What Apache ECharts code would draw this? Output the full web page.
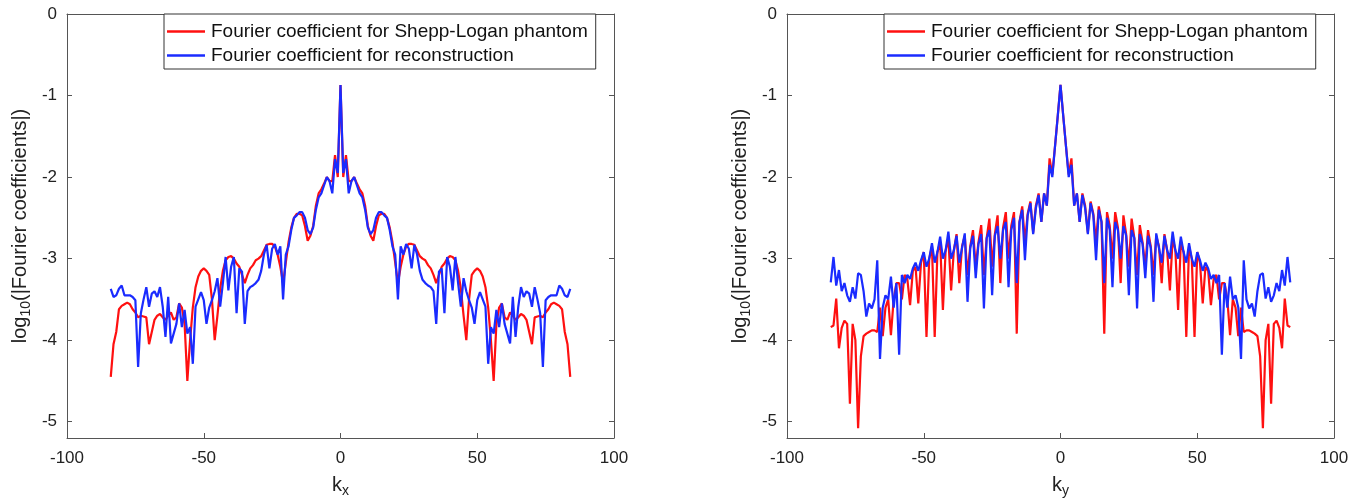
<!DOCTYPE html>
<html>
<head>
<meta charset="utf-8">
<script src="https://cdn.jsdelivr.net/npm/echarts@6/dist/echarts.min.js"></script>
<style>
  html, body { margin: 0; padding: 0; background: #fff; }
  #chart { width: 1364px; height: 504px; }
</style>
</head>
<body>
<div id="chart"></div>
<script>
// sample positions k = -84 .. 84
var kIndex = [];
for (var k = -84; k <= 84; k++) kIndex.push(k);

// left panel (k_x)
var kxPhantom = [
  -4.45,-4.05,-3.9,-3.62,-3.58,-3.56,-3.54,-3.56,-3.62,-3.66,
  -3.72,-3.7,-3.71,-3.72,-4.05,-3.9,-3.75,-3.7,-3.68,-3.72,
  -3.75,-3.7,-3.66,-3.75,-3.72,-3.55,-3.6,-3.8,-4.5,-4.0,
  -3.6,-3.35,-3.22,-3.15,-3.12,-3.15,-3.2,-3.5,-4.0,-3.7,
  -3.37,-3.15,-3.02,-2.98,-2.97,-3.0,-3.06,-3.1,-3.2,-3.3,
  -3.2,-3.12,-3.08,-3.02,-3.0,-2.97,-2.9,-2.83,-2.82,-2.82,
  -2.85,-2.95,-3.1,-3.3,-3.05,-2.8,-2.62,-2.5,-2.45,-2.45,
  -2.47,-2.6,-2.78,-2.72,-2.6,-2.35,-2.2,-2.15,-2.08,-2.0,
  -2.05,-2.05,-1.73,-2.0,
  -0.87,
  -2.0,-1.73,-2.05,-2.05,-2.0,-2.08,-2.15,-2.2,-2.35,
  -2.6,-2.72,-2.78,-2.6,-2.47,-2.45,-2.45,-2.5,-2.62,-2.8,
  -3.05,-3.3,-3.1,-2.95,-2.85,-2.82,-2.82,-2.83,-2.9,-2.97,
  -3.0,-3.02,-3.08,-3.12,-3.2,-3.3,-3.2,-3.1,-3.06,-3.0,
  -2.97,-2.98,-3.02,-3.15,-3.37,-3.7,-4.0,-3.5,-3.2,-3.15,
  -3.12,-3.15,-3.22,-3.35,-3.6,-4.0,-4.5,-3.8,-3.6,-3.55,
  -3.72,-3.75,-3.66,-3.7,-3.75,-3.72,-3.68,-3.7,-3.75,-3.9,
  -4.05,-3.72,-3.71,-3.7,-3.72,-3.66,-3.62,-3.56,-3.54,-3.56,
  -3.58,-3.62,-3.9,-4.05,-4.45
];
var kxRecon = [
  -3.37,-3.47,-3.45,-3.37,-3.33,
  -3.45,-3.45,-3.45,-3.47,-3.51,-4.33,-3.67,-3.5,-3.35,-3.59,
  -3.43,-3.4,-3.47,-3.35,-3.59,-3.96,-3.47,-4.04,-3.92,-3.8,
  -3.55,-3.84,-3.63,-3.92,-3.84,-4.29,-3.59,-3.5,-3.41,-3.51,
  -3.8,-3.6,-3.51,-3.4,-3.24,-3.59,-3.3,-2.98,-3.39,-3.1,
  -2.98,-3.67,-3.12,-3.16,-3.8,-3.4,-3.35,-3.33,-3.3,-3.26,
  -3.15,-2.95,-2.83,-3.12,-2.88,-2.82,-2.95,-2.85,-3.5,-2.95,
  -2.85,-2.65,-2.5,-2.47,-2.43,-2.43,-2.5,-2.65,-2.7,-2.62,
  -2.4,-2.25,-2.2,-2.1,-2.0,-2.05,-2.2,-1.78,-1.95,
  -0.87,
  -1.95,-1.78,-2.2,-2.05,-2.0,-2.1,-2.2,-2.25,-2.4,
  -2.62,-2.7,-2.65,-2.5,-2.43,-2.43,-2.47,-2.5,-2.65,-2.85,
  -2.95,-3.5,-2.85,-2.95,-2.82,-2.88,-3.12,-2.83,-2.95,-3.15,
  -3.26,-3.3,-3.33,-3.35,-3.4,-3.8,-3.16,-3.12,-3.67,-2.98,
  -3.1,-3.39,-2.98,-3.3,-3.59,-3.24,-3.4,-3.51,-3.6,-3.8,
  -3.51,-3.41,-3.5,-3.59,-4.29,-3.84,-3.92,-3.63,-3.84,-3.55,
  -3.8,-3.92,-4.04,-3.47,-3.96,-3.59,-3.35,-3.47,-3.4,-3.43,
  -3.59,-3.35,-3.5,-3.67,-4.33,-3.51,-3.47,-3.45,-3.45,-3.45,
  -3.33,-3.37,-3.45,-3.47,-3.37
];

// right panel (k_y)
var kyPhantom = [
  -3.84,-3.82,-3.49,-4.1,-3.85,
  -3.76,-3.8,-4.78,-3.8,-4.0,-5.08,-4.2,-3.95,-3.92,-3.9,
  -3.88,-3.88,-3.9,-3.6,-3.95,-3.6,-3.5,-3.94,-3.5,-3.3,
  -3.3,-3.5,-3.2,-3.25,-3.57,-3.15,-3.1,-3.55,-3.05,-2.92,
  -3.96,-3.0,-2.85,-3.96,-2.92,-2.8,-3.63,-2.9,-2.75,-3.39,
  -2.9,-2.7,-3.3,-2.85,-2.72,-3.2,-2.85,-2.65,-3.1,-2.8,
  -2.59,-3.2,-2.75,-2.51,-3.1,-2.7,-2.47,-3.3,-2.62,-2.43,
  -3.0,-2.6,-2.43,-3.92,-2.55,-2.36,-2.8,-2.45,-2.3,-2.68,
  -2.35,-2.2,-2.55,-2.2,-2.35,-1.77,-1.97,-1.62,-1.25,
  -0.87,
  -1.25,-1.62,-1.97,-1.77,-2.35,-2.2,-2.55,-2.2,-2.35,
  -2.68,-2.3,-2.45,-2.8,-2.36,-2.55,-3.92,-2.43,-2.6,-3.0,
  -2.43,-2.62,-3.3,-2.47,-2.7,-3.1,-2.51,-2.75,-3.2,-2.59,
  -2.8,-3.1,-2.65,-2.85,-3.2,-2.72,-2.85,-3.3,-2.7,-2.9,
  -3.39,-2.75,-2.9,-3.63,-2.8,-2.92,-3.96,-2.85,-3.0,-3.96,
  -2.92,-3.05,-3.55,-3.1,-3.15,-3.57,-3.25,-3.2,-3.5,-3.3,
  -3.3,-3.5,-3.94,-3.5,-3.6,-3.95,-3.6,-3.9,-3.88,-3.88,
  -3.9,-3.92,-3.95,-4.2,-5.08,-4.0,-3.8,-4.78,-3.8,-3.76,
  -3.85,-4.1,-3.49,-3.82,-3.84
];
var kyRecon = [
  -3.29,-2.98,-3.33,-3.14,-3.4,
  -3.3,-3.45,-3.53,-3.35,-3.49,-3.18,-3.2,-3.4,-3.71,-3.55,
  -3.61,-3.5,-3.02,-4.23,-3.6,-3.45,-3.5,-3.22,-3.6,-3.3,
  -4.18,-3.2,-3.3,-3.2,-3.25,-3.12,-3.05,-3.15,-3.02,-2.92,
  -3.1,-3.0,-2.81,-3.05,-2.92,-2.73,-3.0,-2.9,-2.67,-3.0,
  -2.9,-2.72,-3.05,-2.87,-2.69,-3.53,-2.87,-2.72,-3.24,-2.82,
  -2.7,-3.61,-2.75,-2.65,-3.45,-2.72,-2.6,-3.0,-2.65,-2.55,
  -3.35,-2.65,-2.5,-3.3,-2.55,-2.4,-3.02,-2.47,-2.32,-2.7,
  -2.38,-2.22,-2.55,-2.2,-2.35,-1.85,-2.0,-1.62,-1.25,
  -0.87,
  -1.25,-1.62,-2.0,-1.85,-2.35,-2.2,-2.55,-2.22,-2.38,
  -2.7,-2.32,-2.47,-3.02,-2.4,-2.55,-3.3,-2.5,-2.65,-3.35,
  -2.55,-2.65,-3.0,-2.6,-2.72,-3.45,-2.65,-2.75,-3.61,-2.7,
  -2.82,-3.24,-2.72,-2.87,-3.53,-2.69,-2.87,-3.05,-2.72,-2.9,
  -3.0,-2.67,-2.9,-3.0,-2.73,-2.92,-3.05,-2.81,-3.0,-3.1,
  -2.92,-3.02,-3.15,-3.05,-3.12,-3.25,-3.2,-3.3,-3.2,-4.18,
  -3.3,-3.6,-3.22,-3.5,-3.45,-3.6,-4.23,-3.02,-3.5,-3.61,
  -3.55,-3.71,-3.4,-3.2,-3.18,-3.49,-3.35,-3.53,-3.45,-3.3,
  -3.4,-3.14,-3.33,-2.98,-3.29
];

var xTicks = [-100, -50, 0, 50, 100];
var yTicks = [0, -1, -2, -3, -4, -5];
var seriesNames = ['Fourier coefficient for Shepp-Logan phantom', 'Fourier coefficient for reconstruction'];

var RED = '#ff1010';
var BLUE = '#1a2bff';
var FONT = '"Liberation Sans", Arial, Helvetica, sans-serif';

function pairs(vals) {
    return vals.map(function (v, i) { return [kIndex[i], v]; });
}

var lineCol = '#555';
function xAx(gi, pos, name) {
    return {
        type: 'value', gridIndex: gi, position: pos,
        min: -100, max: 100, interval: 50,
        axisLine: { show: true, onZero: false, lineStyle: { color: lineCol, width: 1 } },
        axisTick: { show: true, inside: true, length: 5, lineStyle: { color: lineCol } },
        axisLabel: { show: pos === 'bottom', fontSize: 17, color: '#222', fontFamily: FONT, margin: 12 },
        splitLine: { show: false },
        name: pos === 'bottom' ? name : '',
        nameLocation: 'middle', nameGap: 34,
        nameTextStyle: {
            fontSize: 20, color: '#222', fontFamily: FONT,
            rich: { sub: { fontSize: 14, color: '#222', fontFamily: FONT, padding: [12, 0, 0, 0] } }
        }
    };
}
function yAx(gi, pos) {
    return {
        type: 'value', gridIndex: gi, position: pos,
        min: -5.2, max: 0,
        axisLine: { show: true, onZero: false, lineStyle: { color: lineCol, width: 1 } },
        axisTick: { show: true, inside: true, length: 5, lineStyle: { color: lineCol }, customValues: yTicks },
        axisLabel: { show: pos === 'left', fontSize: 17, color: '#222', fontFamily: FONT, margin: 10, customValues: yTicks },
        splitLine: { show: false },
        name: pos === 'left' ? 'log{sub|10}(|Fourier coefficients|)' : '',
        nameLocation: 'middle', nameGap: 34,
        nameTextStyle: {
            fontSize: 20, color: '#222', fontFamily: FONT,
            rich: { sub: { fontSize: 14, color: '#222', fontFamily: FONT, padding: [12, 0, 0, 0] } }
        }
    };
}
function lineSeries(name, xi, vals, color) {
    return {
        name: name, type: 'line', xAxisIndex: xi, yAxisIndex: xi,
        data: pairs(vals), symbol: 'none', smooth: false,
        lineStyle: { color: color, width: 2.2 }, itemStyle: { color: color },
        emphasis: { disabled: true }
    };
}
function legendAt(left) {
    return {
        data: seriesNames.map(function (n) { return { name: n, icon: 'rect' }; }),
        left: left, top: 14, orient: 'vertical',
        itemWidth: 38, itemHeight: 2.5, itemGap: 5,
        padding: [8, 8, 4, 3],
        borderColor: '#333', borderWidth: 1, backgroundColor: '#fff',
        textStyle: { fontSize: 19, color: '#111', fontFamily: FONT, padding: [0, 0, 0, 1] }
    };
}

var chart = echarts.init(document.getElementById('chart'), null, { renderer: 'canvas' });
chart.setOption({
    animation: false,
    backgroundColor: '#fff',
    grid: [
        { left: 67, right: 750, top: 14, bottom: 66 },
        { left: 787, right: 30, top: 14, bottom: 66 }
    ],
    xAxis: [
        xAx(0, 'bottom', 'k{sub|x}'), xAx(0, 'top', ''),
        xAx(1, 'bottom', 'k{sub|y}'), xAx(1, 'top', '')
    ],
    yAxis: [
        yAx(0, 'left'), yAx(0, 'right'),
        yAx(1, 'left'), yAx(1, 'right')
    ],
    legend: [legendAt(164), legendAt(884)],
    series: [
        lineSeries(seriesNames[0], 0, kxPhantom, RED),
        lineSeries(seriesNames[1], 0, kxRecon, BLUE),
        lineSeries(seriesNames[0], 2, kyPhantom, RED),
        lineSeries(seriesNames[1], 2, kyRecon, BLUE)
    ]
});
</script>
</body>
</html>
